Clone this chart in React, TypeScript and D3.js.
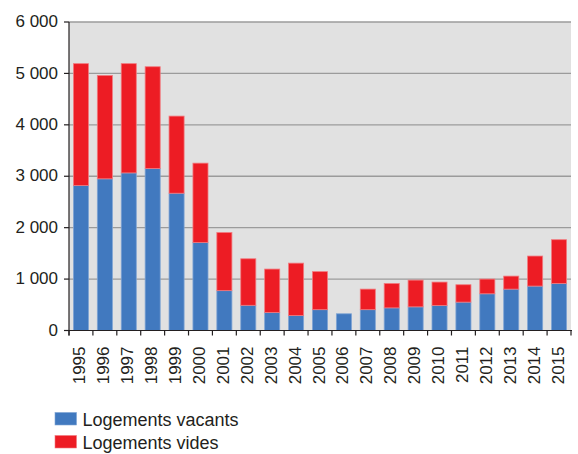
import React from "react";
import * as d3 from "d3";

const years = ["1995","1996","1997","1998","1999","2000","2001","2002","2003","2004","2005","2006","2007","2008","2009","2010","2011","2012","2013","2014","2015"];
const vacants = [2820, 2950, 3065, 3150, 2670, 1710, 775, 490, 350, 290, 405, 325, 405, 440, 460, 487, 552, 714, 805, 864, 916];
const vides = [2370, 2010, 2125, 1980, 1500, 1545, 1130, 905, 845, 1020, 740, 0, 400, 475, 520, 455, 338, 286, 253, 584, 850];
const yTicks = [0, 1000, 2000, 3000, 4000, 5000, 6000];
const seriesNames = ["Logements vacants", "Logements vides"];
const colors = ["#4179BF", "#ED1C24"];
const strokes = ["#7FA4D4", "#F27A7F"];

const W = 578, H = 454;
const left = 69, right = 571, top = 22, bottom = 330.5;
const font = "Liberation Sans, Arial, sans-serif";
const textColor = "#231F20";

const fmt = (v: number) => d3.format(",")(v).replace(/,/g, "\u00a0");

export default function App() {
  const x = d3.scaleBand<string>().domain(years).range([left, right]).paddingInner(0.37).paddingOuter(0.185);
  const y = d3.scaleLinear().domain([0, 6000]).range([bottom, top]);
  const rows = years.map((yr, i) => ({ yr, vacants: vacants[i], vides: vides[i] }));
  const stack = d3.stack<any>().keys(["vacants", "vides"])(rows);
  const boundaries = d3.range(years.length + 1).map(i => left + i * (right - left) / years.length);

  return (
    <svg width={W} height={H} style={{ position: "absolute", left: 0, top: 0 }}>
      <rect x={left} y={top} width={right - left} height={bottom - top} fill="#E1E1E1" />
      {yTicks.filter(t => t > 0).map(t => (
        <line key={t} x1={left} x2={right} y1={y(t)} y2={y(t)} stroke="#9B9B9B" strokeWidth={1.4} />
      ))}
      {stack.map((s, si) => (
        <g key={si}>
          {s.map((d, i) => {
            const h = y(d[0]) - y(d[1]);
            if (h <= 0) return null;
            return (
              <rect key={i} x={x(years[i])!} width={x.bandwidth()} y={y(d[1])} height={h}
                fill={colors[si]} stroke={strokes[si]} strokeWidth={0.8} />
            );
          })}
        </g>
      ))}
      <line x1={left} x2={left} y1={top} y2={bottom + 5} stroke={textColor} strokeWidth={1.2} />
      <line x1={left - 5} x2={right + 1} y1={bottom} y2={bottom} stroke={textColor} strokeWidth={1.2} />
      {yTicks.map(t => (
        <g key={t}>
          <line x1={left - 5} x2={left} y1={y(t)} y2={y(t)} stroke={textColor} strokeWidth={1.2} />
          <text x={58} y={y(t)} dy="0.3em" textAnchor="end" fontFamily={font} fontSize={17} fill={textColor}>{fmt(t)}</text>
        </g>
      ))}
      {boundaries.map((b, i) => (
        <line key={i} x1={b} x2={b} y1={bottom} y2={bottom + 5} stroke={textColor} strokeWidth={1.2} />
      ))}
      {years.map(yr => {
        const cx = x(yr)! + x.bandwidth() / 2;
        return (
          <text key={yr} transform={`translate(${cx + 4.5},${346.5}) rotate(-90)`} textAnchor="end"
            fontFamily={font} fontSize={17} fill={textColor}>{yr}</text>
        );
      })}
      {seriesNames.map((n, i) => (
        <g key={n} transform={`translate(55,${412.5 + i * 23})`}>
          <rect x={0} y={0} width={21.5} height={12.5} fill={colors[i]} stroke={strokes[i]} strokeWidth={0.6} />
          <text x={27.5} y={13.3} fontFamily={font} fontSize={18} fill={textColor}>{n}</text>
        </g>
      ))}
    </svg>
  );
}
